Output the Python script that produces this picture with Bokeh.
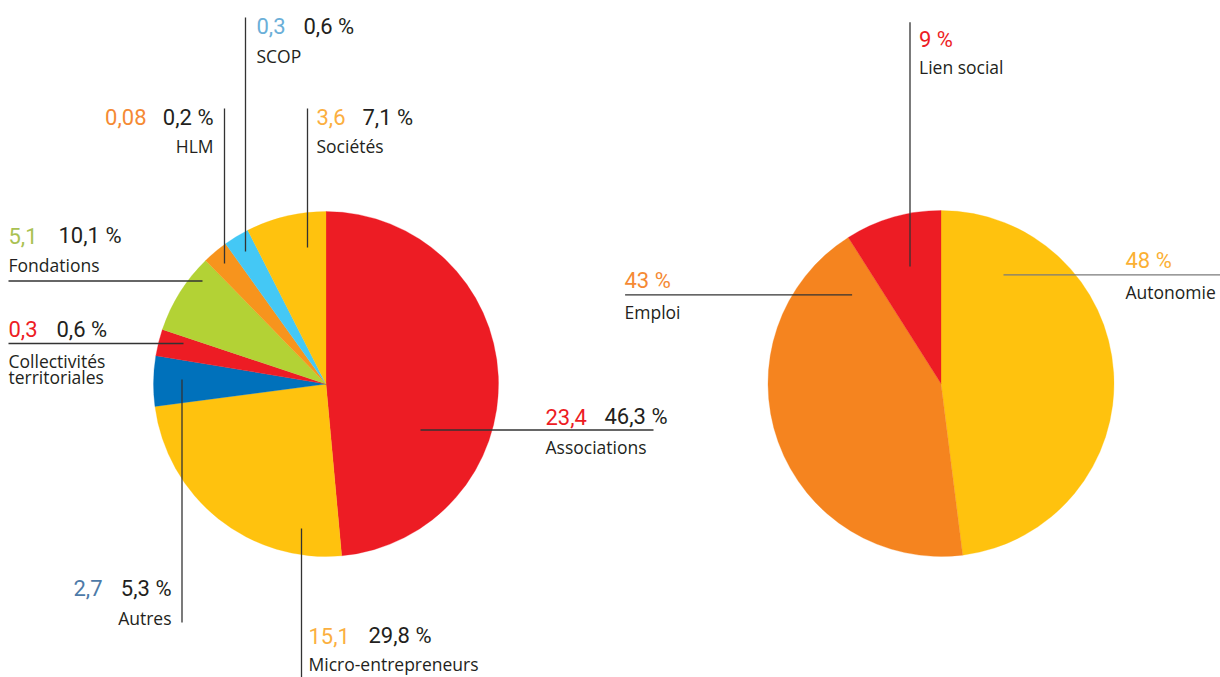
import math
from bokeh.plotting import figure
from bokeh.models import ColumnDataSource, Range1d
from bokeh.core.properties import value
from bokeh.embed import file_html
from bokeh.resources import INLINE

# ---------------- data ----------------
left_categories = ["Associations", "Micro-entrepreneurs", "Autres",
                   "Collectivités\nterritoriales", "Fondations", "HLM", "SCOP", "Sociétés"]
left_values = [23.4, 15.1, 2.7, 0.3, 5.1, 0.08, 0.3, 3.6]          # amounts
left_percent = [46.3, 29.8, 5.3, 0.6, 10.1, 0.2, 0.6, 7.1]         # labelled shares
left_drawn_share = [48.6, 24.4, 4.7, 2.5, 7.6, 2.4, 2.4, 7.5]      # slice sizes as drawn
left_colors = ["#ED1C24", "#FFC20E", "#0071BB", "#ED1C24", "#B3D235", "#F7941D", "#44C8F5", "#FFC20E"]
left_value_colors = ["#ED1C24", "#FBAF3F", "#4D7AA8", "#ED1C24", "#A9C152", "#F58A34", "#6BAFD8", "#FBAF3F"]

right_categories = ["Autonomie", "Emploi", "Lien social"]
right_percent = [48, 43, 9]
right_colors = ["#FFC20E", "#F5841F", "#ED1C24"]
right_value_colors = ["#FBB034", "#F58A34", "#ED1C24"]

# ---------------- layout (screen pixels) ----------------
W, H = 1220, 677
TEXT_SHIFT = 6.5   # compensation for the renderer's baseline placement
def Y(ys):
    return H - ys
def YT(ys):
    return H - (ys - TEXT_SHIFT)

LEFT_C = (325.5, 383.5); LEFT_R = 172.5
RIGHT_C = (940.5, 383.0); RIGHT_R = 173.0

# per label: value x, pct x, align, number baseline, name x, name baseline, leader line
left_layout = [
    dict(vx=545, px=604, align="left", nb=422.7, nx=545, lb=453, line=(420, 429.5, 653, 429.5)),
    dict(vx=308, px=368, align="left", nb=641.7, nx=308, lb=670, line=(301, 528, 301, 677)),
    dict(vx=102, px=171, align="right", nb=594, nx=171, lb=624, line=(181.5, 379, 181.5, 622)),
    dict(vx=8, px=56, align="left", nb=335, nx=8, lb=366.7, line=(8, 343, 183, 343)),
    dict(vx=8, px=58, align="left", nb=241.7, nx=8, lb=271, line=(8, 280.5, 202, 280.5)),
    dict(vx=146, px=213, align="right", nb=123, nx=213, lb=152, line=(224, 108, 224, 263)),
    dict(vx=256, px=303, align="left", nb=32, nx=256, lb=62, line=(245, 17, 245, 251)),
    dict(vx=316, px=362, align="left", nb=123, nx=316, lb=152, line=(307, 108, 307, 247)),
]
right_layout = [
    dict(vx=1125, nb=266.7, nx=1125, lb=298.3, line=(1003, 274.3, 1220, 274.3), lc="#7a7a7a"),
    dict(vx=624, nb=286.7, nx=624, lb=318.3, line=(624.6, 294.3, 851.6, 294.3), lc="#333333"),
    dict(vx=918.5, nb=45, nx=918.5, lb=73, line=(909.5, 21.7, 909.5, 266), lc="#333333"),
]

def fr(v):
    return str(v).replace(".", ",")

p = figure(width=W, height=H, output_backend="svg", toolbar_location=None,
           x_range=Range1d(0, W), y_range=Range1d(0, H),
           x_axis_location=None, y_axis_location=None, min_border=0)
p.grid.visible = False
p.outline_line_color = None
p.background_fill_color = "white"
p.border_fill_color = "white"

def wedges(shares, colors, center, r):
    total = float(sum(shares))
    cum = 0.0
    starts, ends = [], []
    for s in shares:
        starts.append(math.pi / 2 - 2 * math.pi * cum / total)
        cum += s
        ends.append(math.pi / 2 - 2 * math.pi * cum / total)
    src = ColumnDataSource(dict(x=[center[0]] * len(shares), y=[Y(center[1])] * len(shares),
                                start=starts, end=ends, color=colors))
    p.wedge(x="x", y="y", radius=r, start_angle="start", end_angle="end",
            direction="clock", fill_color="color", line_color="color", line_width=0.3, source=src)

wedges(left_drawn_share, left_colors, LEFT_C, LEFT_R)
wedges(right_percent, right_colors, RIGHT_C, RIGHT_R)

NUM_FONT = value("Roboto")
LAB_FONT = value("Open Sans")
NUM_SIZE = "22px"
LAB_SIZE = "17.5px"
INK = "#231F20"

# leader lines
for L in left_layout:
    x0, y0, x1, y1 = L["line"]
    p.segment(x0=[x0], y0=[Y(y0)], x1=[x1], y1=[Y(y1)], line_color="#333333", line_width=1.3)
for L in right_layout:
    x0, y0, x1, y1 = L["line"]
    p.segment(x0=[x0], y0=[Y(y0)], x1=[x1], y1=[Y(y1)], line_color=L["lc"], line_width=1.3)

# left labels
for cat, v, pc, vc, L in zip(left_categories, left_values, left_percent, left_value_colors, left_layout):
    p.text(x=[L["vx"]], y=[YT(L["nb"])], text=[fr(v)], text_color=vc, text_font=NUM_FONT,
           text_font_size=NUM_SIZE, text_align=L["align"], text_baseline="alphabetic")
    p.text(x=[L["px"]], y=[YT(L["nb"])], text=[fr(pc) + " %"], text_color=INK, text_font=NUM_FONT,
           text_font_size=NUM_SIZE, text_align=L["align"], text_baseline="alphabetic")
    lines = cat.split("\n")
    for i, t in enumerate(lines):
        p.text(x=[L["nx"]], y=[YT(L["lb"] + i * 16.3)], text=[t], text_color=INK, text_font=LAB_FONT,
               text_font_size=LAB_SIZE, text_align=L["align"], text_baseline="alphabetic")

# right labels
for cat, pc, vc, L in zip(right_categories, right_percent, right_value_colors, right_layout):
    p.text(x=[L["vx"]], y=[YT(L["nb"])], text=[fr(pc) + " %"], text_color=vc, text_font=NUM_FONT,
           text_font_size=NUM_SIZE, text_align="left", text_baseline="alphabetic")
    p.text(x=[L["nx"]], y=[YT(L["lb"])], text=[cat], text_color=INK, text_font=LAB_FONT,
           text_font_size=LAB_SIZE, text_align="left", text_baseline="alphabetic")

open("out.html", "w").write(file_html(p, INLINE))
